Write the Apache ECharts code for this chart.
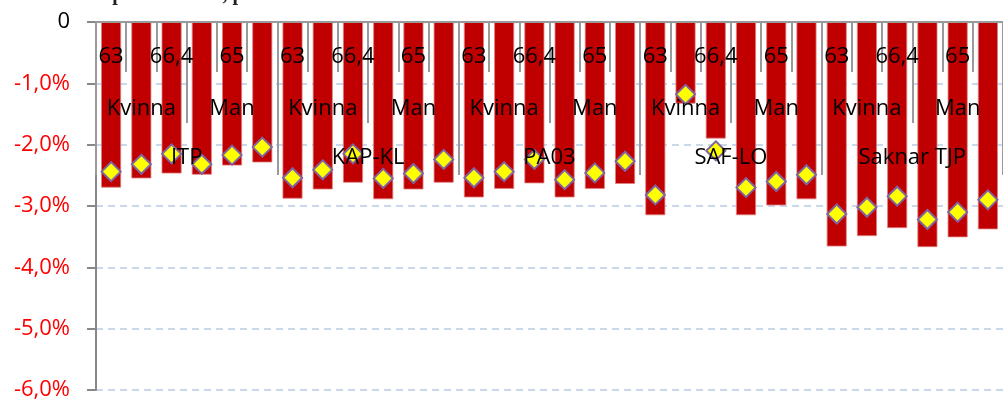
<!DOCTYPE html>
<html>
<head>
<meta charset="utf-8">
<script src="https://cdn.jsdelivr.net/npm/echarts@6/dist/echarts.min.js"></script>
<style>
html,body{margin:0;padding:0;background:#fff;}
#chart{width:1003px;height:401px;}
</style>
</head>
<body>
<div id="chart"></div>
<script>
// Category levels
const ages = ['63', '65', '66,4'];
const genders = ['Kvinna', 'Man'];
const schemes = ['ITP', 'KAP-KL', 'PA03', 'SAF-LO', 'Saknar TJP'];

// Bar values (percent)
const barValues = [
  -2.70, -2.55, -2.47, -2.49, -2.34, -2.29,
  -2.88, -2.73, -2.62, -2.89, -2.73, -2.62,
  -2.86, -2.72, -2.63, -2.86, -2.72, -2.64,
  -3.15, -1.33, -1.90, -3.15, -2.99, -2.89,
  -3.66, -3.49, -3.36, -3.67, -3.51, -3.38
];
// Diamond marker values (percent)
const markerValues = [
  -2.44, -2.32, -2.15, -2.32, -2.17, -2.04,
  -2.54, -2.41, -2.15, -2.55, -2.47, -2.24,
  -2.54, -2.44, -2.24, -2.57, -2.46, -2.27,
  -2.82, -1.18, -2.10, -2.70, -2.60, -2.49,
  -3.13, -3.02, -2.84, -3.22, -3.10, -2.90
];
const yTicks = [0, -1, -2, -3, -4, -5, -6];

// Build multi-level category lists
const ageCats = [];
const genderCats = [];
schemes.forEach(function (s) {
  genders.forEach(function (g) {
    genderCats.push(g);
    ages.forEach(function (a) { ageCats.push(a); });
  });
});

const FONT = '"Open Sans", "Noto Sans", sans-serif';
const chart = echarts.init(document.getElementById('chart'), null, {renderer: 'canvas'});

const baseX = {
  type: 'category',
  position: 'top',
  z: 10,
  axisLine: {show: false, onZero: false},
  splitLine: {show: false},
  axisTick: {show: true, inside: true, interval: 0, lineStyle: {color: '#9a9a9a', width: 2}},
  axisLabel: {inside: true, interval: 0, fontFamily: FONT, fontSize: 22, color: '#000'}
};

chart.setOption({
  animation: false,
  graphic: [{
    type: 'text', left: 14, top: -15,
    style: {text: 'Förändrad pensionsnivå, procent', font: 'bold 20px "Liberation Serif", serif', fill: '#222'}
  }],
  grid: {left: 96, top: 22, width: 918, height: 368, containLabel: false},
  xAxis: [
    Object.assign({}, baseX, {
      data: ageCats,
      axisLine: {show: true, onZero: false, lineStyle: {color: '#9a9a9a', width: 2}},
      axisTick: Object.assign({}, baseX.axisTick, {length: 50}),
      axisLabel: Object.assign({}, baseX.axisLabel, {interval: 1, margin: 24})
    }),
    Object.assign({}, baseX, {
      data: genderCats,
      axisTick: Object.assign({}, baseX.axisTick, {length: 101}),
      axisLabel: Object.assign({}, baseX.axisLabel, {margin: 76})
    }),
    Object.assign({}, baseX, {
      data: schemes,
      axisTick: Object.assign({}, baseX.axisTick, {length: 153}),
      axisLabel: Object.assign({}, baseX.axisLabel, {margin: 125})
    })
  ],
  yAxis: {
    type: 'value',
    min: -6, max: 0, interval: 1,
    axisLine: {show: true, lineStyle: {color: '#888', width: 2}},
    axisTick: {show: true, length: 9, lineStyle: {color: '#888', width: 2}},
    splitLine: {show: true, lineStyle: {color: '#b8cce4', width: 1.5, type: [7, 5]}},
    axisLabel: {
      margin: 26,
      fontFamily: FONT, fontSize: 22,
      formatter: function (v) {
        if (v === 0) return '0';
        return v.toFixed(1).replace('.', ',') + '%';
      },
      color: function (v) { return Number(v) === 0 ? '#000' : '#ff0000'; }
    }
  },
  series: [
    {
      type: 'bar',
      xAxisIndex: 0,
      data: barValues,
      barWidth: 20,
      itemStyle: {color: '#c00000', borderColor: '#e08080', borderWidth: 0.8},
      z: 2
    },
    {
      type: 'scatter',
      xAxisIndex: 0,
      data: markerValues,
      symbol: 'diamond',
      symbolSize: 19,
      itemStyle: {color: '#ffff00', borderColor: '#8064a2', borderWidth: 2, opacity: 1},
      z: 3
    }
  ]
});
</script>
</body>
</html>
